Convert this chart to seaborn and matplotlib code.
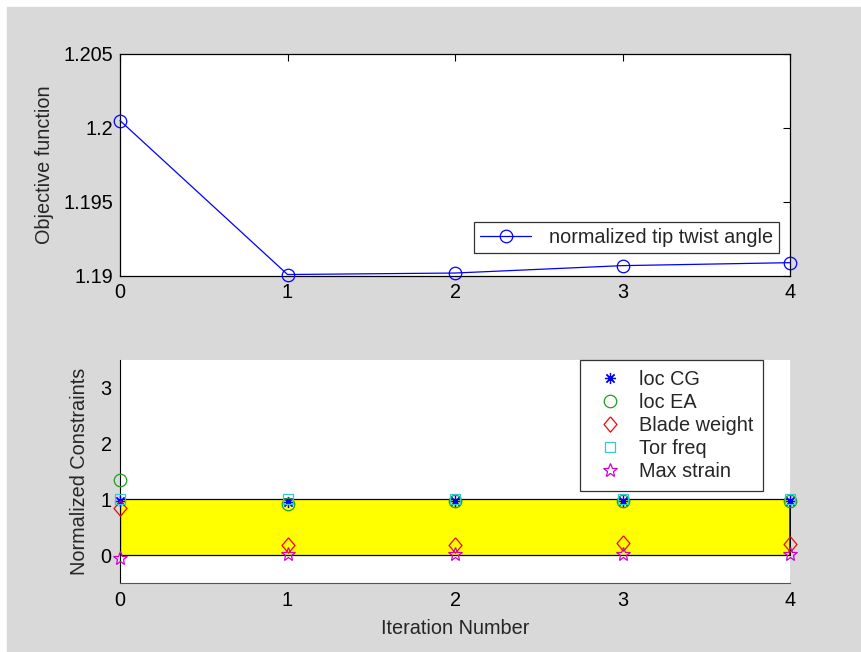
### Import libraries
import numpy as np
import pandas as pd
import matplotlib
matplotlib.use("Agg")
import matplotlib.pyplot as plt
import matplotlib.patches as mpatches
import seaborn as sns

sns.set_style("white")
plt.rcParams['font.family'] = ['Liberation Sans', 'DejaVu Sans']

### data
iterations = [0, 1, 2, 3, 4]
tip_twist = [1.2005, 1.1901, 1.1902, 1.1907, 1.1909]

loc_cg = [0.98, 0.95, 0.97, 0.97, 0.97]
loc_ea = [1.35, 0.92, 0.97, 0.97, 0.98]
blade_weight = [0.84, 0.18, 0.18, 0.21, 0.2]
tor_freq = [1.0, 1.0, 1.0, 1.0, 1.0]
max_strain = [-0.05, 0.02, 0.02, 0.02, 0.02]

bound_low = [0, 0, 0, 0, 0]
bound_high = [1, 1, 1, 1, 1]

obj_yticks = [1.19, 1.195, 1.2, 1.205]
obj_yticklabels = ["1.19", "1.195", "1.2", "1.205"]
con_yticks = [0, 1, 2, 3]

FS = 14.3
GRAY = '#d9d9d9'
# matlab style diamond, a bit taller than wide
DIAMOND = [(0, 1), (0.85, 0), (0, -1), (-0.85, 0), (0, 1)]

fig = plt.figure(figsize=(8.61, 6.52), dpi=100, facecolor='white')
fig.patches.append(mpatches.Rectangle((7 / 861, 0), 1, 1 - 7 / 652,
                                      transform=fig.transFigure,
                                      color=GRAY, zorder=-10))

### top : objective function
ax1 = fig.add_axes([0.1394, 0.5767, 0.7782, 0.3405])
df_obj = pd.DataFrame({"it": iterations, "obj": tip_twist})
sns.lineplot(data=df_obj, x="it", y="obj", ax=ax1, color='blue', lw=0.9,
             marker='o', ms=9, mfc='none', mec='blue', mew=0.9,
             label='normalized tip twist angle', clip_on=False, zorder=3)
ax1.set_xlim(0, 4)
ax1.set_ylim(1.19, 1.205)
ax1.set_xticks(iterations)
ax1.set_yticks(obj_yticks)
ax1.set_yticklabels(obj_yticklabels)
ax1.set_xlabel("")
ax1.set_ylabel("Objective function", fontsize=FS, labelpad=7)
ax1.tick_params(direction='in', length=5, width=0.8, top=True, right=True,
                labelsize=FS, pad=5, colors='black')
for s in ax1.spines.values():
    s.set_color('black')
    s.set_linewidth(0.9)
leg1 = ax1.legend(loc='lower right', bbox_to_anchor=(0.984, 0.105),
                  fontsize=FS, frameon=True, fancybox=False, borderpad=0.3,
                  handlelength=2.6, handletextpad=0.9, borderaxespad=0)
leg1.get_frame().set_edgecolor('black')
leg1.get_frame().set_linewidth(0.9)

### bottom : normalized constraints
ax2 = fig.add_axes([0.1394, 0.1058, 0.7782, 0.3420])
ax2.fill_between(iterations, bound_low, bound_high, facecolor='yellow',
                 edgecolor='black', lw=0.9, zorder=1)
ax2.vlines(iterations[-1], 0, 1, color='darkred', lw=1.2, zorder=1.5)

series = [
    ("loc CG", loc_cg, (8, 2, 0), 'blue', 8),
    ("loc EA", loc_ea, 'o', '#1e9e1e', 9),
    ("Blade weight", blade_weight, DIAMOND, 'red', 11),
    ("Tor freq", tor_freq, 's', '#33c9c9', 7.5),
    ("Max strain", max_strain, '*', '#d000d0', 10),
]
for name, vals, mk, col, size in series:
    d = pd.DataFrame({"it": iterations, "val": vals})
    sns.lineplot(data=d, x="it", y="val", ax=ax2, linestyle='none',
                 marker=mk, ms=size, mfc='none', mec=col, color=col,
                 mew=0.9, label=name, zorder=3, clip_on=False)

ax2.set_xlim(0, 4)
ax2.set_ylim(-0.5, 3.5)
ax2.set_xticks(iterations)
ax2.set_yticks(con_yticks)
ax2.set_xlabel("Iteration Number", fontsize=FS, labelpad=6)
ax2.set_ylabel("Normalized Constraints", fontsize=FS, labelpad=8)
ax2.tick_params(direction='in', length=5, width=0.8, labelsize=FS, pad=6,
                colors='black')
ax2.spines['top'].set_visible(False)
ax2.spines['right'].set_visible(False)
ax2.spines['left'].set_color('black')
ax2.spines['bottom'].set_color('#555555')
leg2 = ax2.legend(loc='upper right', bbox_to_anchor=(0.96, 1.0),
                  fontsize=FS, frameon=True, fancybox=False, borderpad=0.5,
                  labelspacing=0.2, handlelength=2.0, handletextpad=0.45,
                  borderaxespad=0)
leg2.get_frame().set_edgecolor('black')
leg2.get_frame().set_linewidth(0.9)

plt.savefig("out.png", dpi=100, facecolor=fig.get_facecolor())
plt.close()
